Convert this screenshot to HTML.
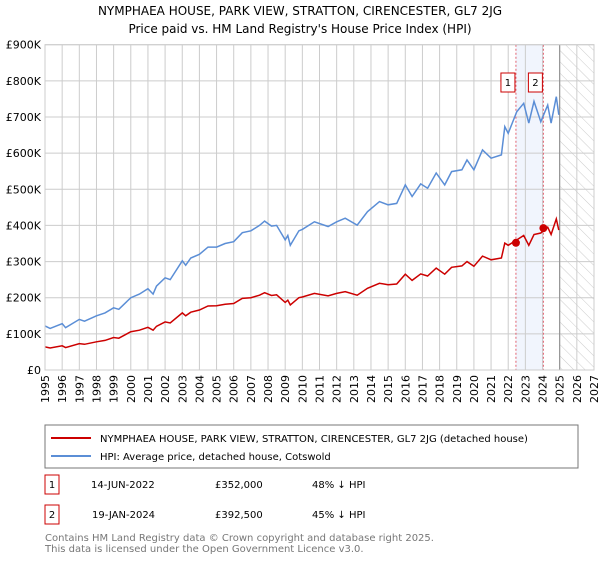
<!DOCTYPE html>
<html><head><meta charset="utf-8"><style>
body{margin:0;background:#fff;font-family:"DejaVu Sans","Liberation Sans",sans-serif;}
</style></head><body>
<svg id="c" width="600" height="560" xmlns="http://www.w3.org/2000/svg" style="font-family:'DejaVu Sans','Liberation Sans',sans-serif">
<defs><pattern id="hatch" width="8" height="8" patternUnits="userSpaceOnUse" patternTransform="rotate(-45)"><line x1="0" y1="0" x2="0" y2="8" stroke="#ccc" stroke-width="1"/></pattern></defs>
<text x="300" y="15" text-anchor="middle" font-size="12">NYMPHAEA HOUSE, PARK VIEW, STRATTON, CIRENCESTER, GL7 2JG</text>
<text x="300" y="33" text-anchor="middle" font-size="12">Price paid vs. HM Land Registry's House Price Index (HPI)</text>
<g id="plot"></g>
<rect x="45" y="425" width="533" height="43" fill="#fff" stroke="#777"/>
<line x1="51" y1="438" x2="91" y2="438" stroke="#cc0000" stroke-width="2"/>
<text x="100" y="442" font-size="10">NYMPHAEA HOUSE, PARK VIEW, STRATTON, CIRENCESTER, GL7 2JG (detached house)</text>
<line x1="51" y1="456" x2="91" y2="456" stroke="#5b8ed6" stroke-width="2"/>
<text x="100" y="460" font-size="10">HPI: Average price, detached house, Cotswold</text>
<g font-size="10">
<rect x="45" y="475" width="14" height="19" fill="#fff" stroke="#cc0000"/>
<text x="52" y="488" text-anchor="middle">1</text>
<text x="91" y="488">14-JUN-2022</text>
<text x="215" y="488">£352,000</text>
<text x="312" y="488">48% ↓ HPI</text>
</g>
<g font-size="10">
<rect x="45" y="505" width="14" height="19" fill="#fff" stroke="#cc0000"/>
<text x="52" y="518" text-anchor="middle">2</text>
<text x="92" y="518">19-JAN-2024</text>
<text x="215" y="518">£392,500</text>
<text x="312" y="518">45% ↓ HPI</text>
</g>
<text x="45" y="541" font-size="10" fill="#777">Contains HM Land Registry data © Crown copyright and database right 2025.</text>
<text x="45" y="552" font-size="10" fill="#777">This data is licensed under the Open Government Licence v3.0.</text>
</svg>
<script>
const hpiYears=[1995,1995.3,1996,1996.2,1997,1997.3,1998,1998.5,1999,1999.3,2000,2000.5,2001,2001.3,2001.5,2002,2002.3,2003,2003.2,2003.5,2004,2004.5,2005,2005.5,2006,2006.5,2007,2007.5,2007.8,2008.2,2008.5,2009,2009.15,2009.3,2009.8,2010,2010.7,2011.5,2012,2012.5,2013.2,2013.8,2014.5,2015,2015.5,2016,2016.4,2016.9,2017.3,2017.8,2018.3,2018.7,2019.3,2019.6,2020,2020.5,2021,2021.6,2021.8,2022,2022.5,2022.9,2023.2,2023.5,2023.9,2024.3,2024.5,2024.8,2024.95];
const hpiValues=[122,115,128,117,140,135,150,158,172,168,200,210,225,210,232,255,250,302,290,310,320,340,340,350,355,380,385,400,412,398,400,360,372,345,385,389,410,397,410,420,401,438,466,457,461,512,480,515,503,545,512,549,554,581,554,609,586,595,673,655,715,738,683,743,687,733,683,756,706];
const propValues=[64,61,67,62,73,71,78,82,90,88,106,110,118,110,121,133,130,158,150,160,166,177,178,182,184,198,200,207,214,206,208,187,193,180,200,202,212,205,212,217,207,226,240,236,238,265,248,266,260,282,265,284,288,300,287,315,305,310,351,345,360,372,345,375,379,395,375,418,387];
const saleYears=[2022.45,2024.05];
const saleValues=[352,392.5];
const yTicks=[0,100,200,300,400,500,600,700,800,900];
const yLabels=["£0","£100K","£200K","£300K","£400K","£500K","£600K","£700K","£800K","£900K"];
const xTicks=[1995,1996,1997,1998,1999,2000,2001,2002,2003,2004,2005,2006,2007,2008,2009,2010,2011,2012,2013,2014,2015,2016,2017,2018,2019,2020,2021,2022,2023,2024,2025,2026,2027];
const X0=45,X1=594,Y0=370,Y1=44.7;
const xs=y=>X0+(y-1995)/(2027-1995)*(X1-X0);
const ys=v=>Y0-v/900*(Y0-Y1);
const ns="http://www.w3.org/2000/svg";
const g=document.getElementById('plot');
function mk(t,a){const e=document.createElementNS(ns,t);for(const k in a)e.setAttribute(k,a[k]);g.appendChild(e);return e;}
let e=mk('rect',{x:xs(saleYears[0]),y:Y1,width:xs(saleYears[1])-xs(saleYears[0]),height:Y0-Y1,fill:'#eef3fc',opacity:0.8});


e=mk('rect',{x:xs(2025),y:Y1,width:X1-xs(2025),height:Y0-Y1,fill:'url(#hatch)'});


yTicks.forEach((v,i)=>{
 let l=mk('line',{x1:X0,x2:X1,y1:ys(v),y2:ys(v),stroke:'#ccc'});
 
 
 let t=mk('text',{x:X0-4,y:ys(v)+4,'text-anchor':'end','font-size':11});
 t.textContent=yLabels[i];
 
 
});
xTicks.forEach(v=>{
 let l=mk('line',{x1:xs(v),x2:xs(v),y1:Y1,y2:Y0,stroke:'#ccc'});
 
 
 let t=mk('text',{x:0,y:0,'text-anchor':'end','font-size':11,transform:`translate(${xs(v)+4},${Y0+5}) rotate(-90)`});
 t.textContent=v;
 
 
});
e=mk('line',{x1:xs(2025),x2:xs(2025),y1:Y1,y2:Y0,stroke:'#888','stroke-width':1});


saleYears.forEach((s,i)=>{
 let l=mk('line',{x1:xs(s),x2:xs(s),y1:Y1,y2:Y0,stroke:'#e06070','stroke-dasharray':'2,2'});
 
 
 let r=mk('rect',{x:xs(s)-15,y:73,width:14,height:19,fill:'#fff',stroke:'#cc0000'});
 
 
 let t=mk('text',{x:xs(s)-8,y:86,'text-anchor':'middle','font-size':10});
 t.textContent=i+1;
 
 
});
function path(vals){return hpiYears.map((y,i)=>(i?'L':'M')+xs(y).toFixed(1)+','+ys(vals[i]).toFixed(1)).join('');}
e=mk('path',{d:path(hpiValues),fill:'none',stroke:'#5b8ed6','stroke-width':1.5});


e=mk('path',{d:path(propValues),fill:'none',stroke:'#cc0000','stroke-width':1.5});


saleYears.forEach((s,i)=>{
 let c=mk('circle',{cx:xs(s),cy:ys(saleValues[i]),r:4,fill:'#cc0000'});
 
 
});
e=mk('rect',{x:X0,y:Y1,width:X1-X0,height:Y0-Y1,fill:'none',stroke:'#ccc'});


</script>
</body></html>
